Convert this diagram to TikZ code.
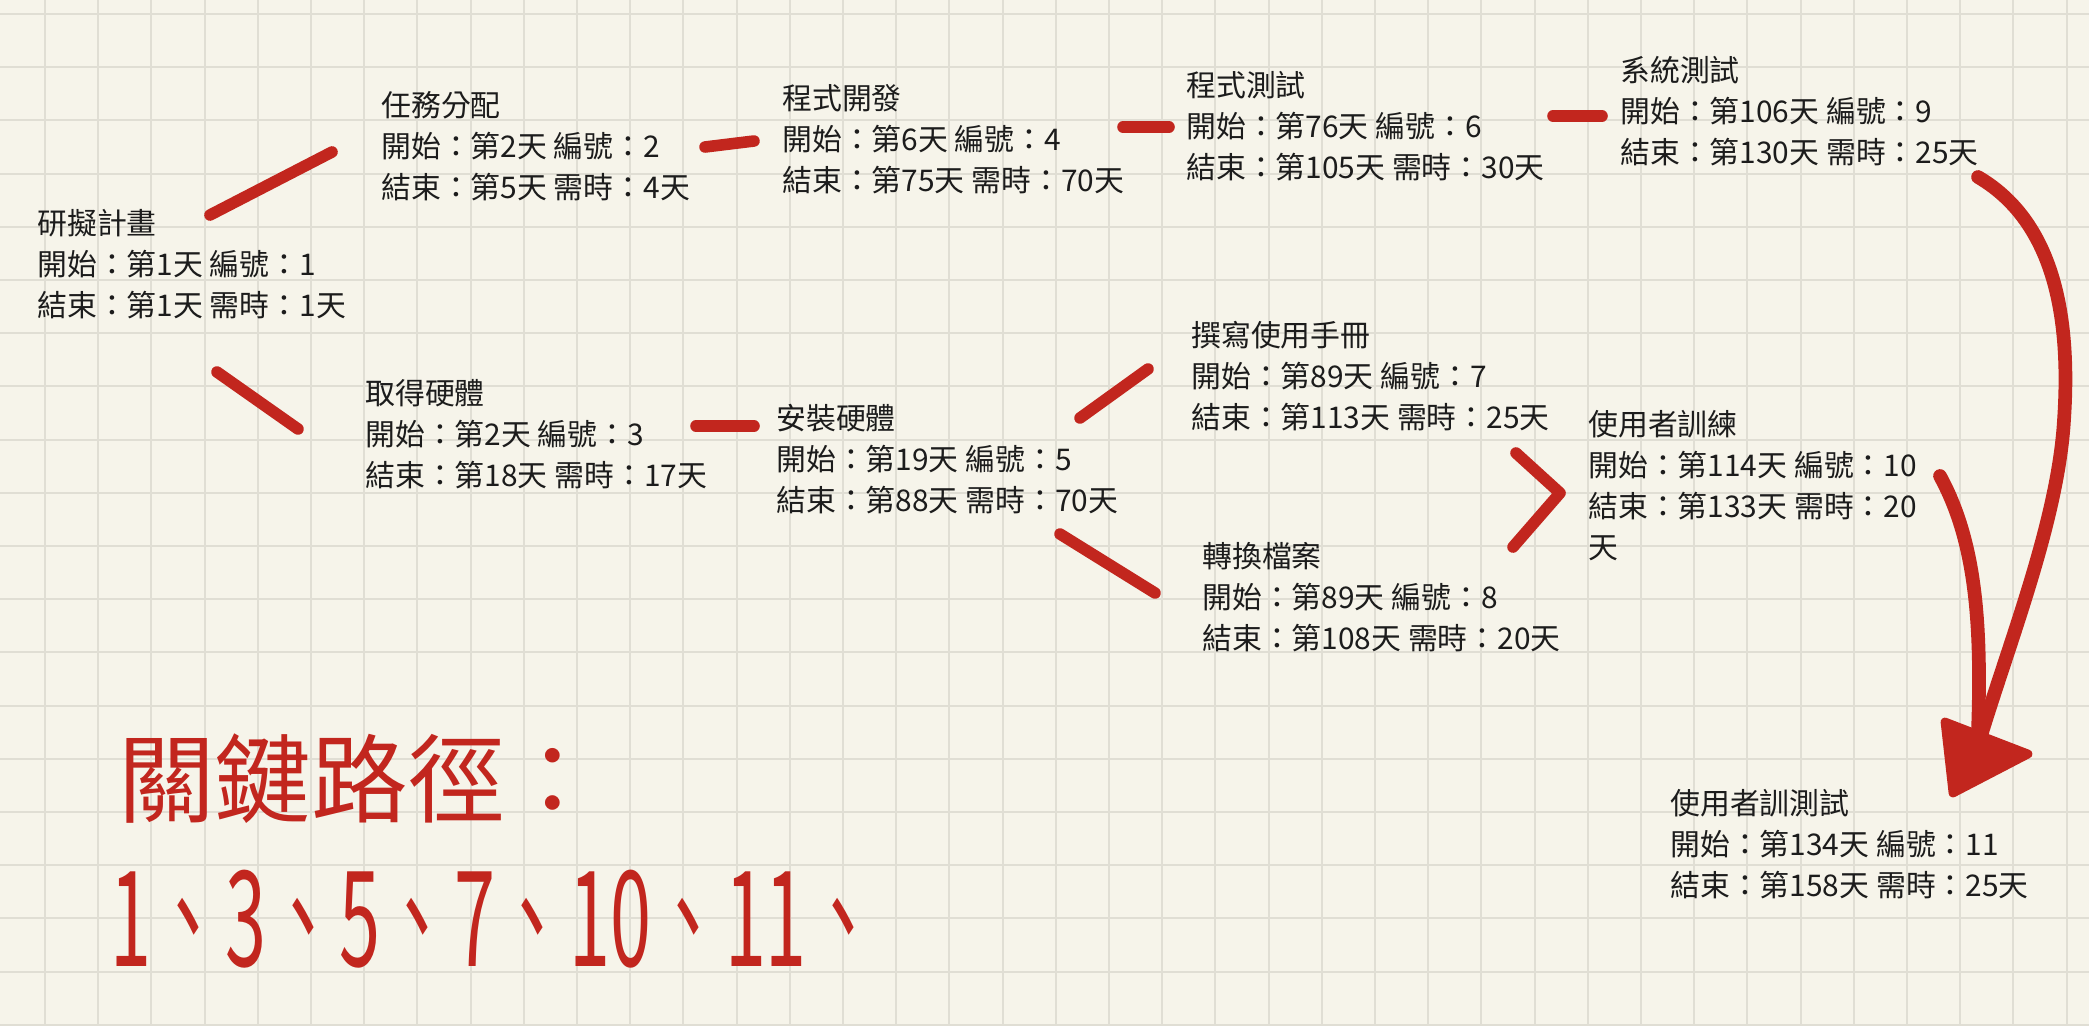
\documentclass[tikz,border=0pt]{standalone}
\usepackage{fontspec}
\newfontfamily\cjk{Noto Sans CJK TC}
\definecolor{paper}{RGB}{246,244,234}
\definecolor{gridline}{RGB}{224,222,212}
\definecolor{pen}{RGB}{194,38,30}
\definecolor{ink}{RGB}{28,28,28}

\begin{document}
\begin{tikzpicture}[x=0.02cm, y=-0.02cm,
  task/.style={anchor=north west, inner sep=0pt, align=left, text=ink,
    font=\cjk\fontsize{17}{23.3}\selectfont},
  link/.style={draw=pen, line width=6.6pt, line cap=round},
  sweep/.style={draw=pen, line width=7.8pt, line cap=round},
  hand/.style={anchor=north west, inner sep=0pt, text=pen}]

% paper and grid
\fill[paper] (0,0) rectangle (2089,1025);
\useasboundingbox (0,0) rectangle (2089,1025);
\foreach \i in {0,...,38}
  \draw[gridline, line width=1.1pt] ({45+53.2*\i},0) -- ({45+53.2*\i},1025);
\foreach \j in {0,...,19}
  \draw[gridline, line width=1.1pt] (0,{14+53.2*\j}) -- (2089,{14+53.2*\j});

% tasks
\node[task] (plan)    at (37,209)   {研擬計畫\\開始：第1天 編號：1\\結束：第1天 需時：1天};
\node[task] (assign)  at (381,91)   {任務分配\\開始：第2天 編號：2\\結束：第5天 需時：4天};
\node[task] (getHW)   at (365,379)  {取得硬體\\開始：第2天 編號：3\\結束：第18天 需時：17天};
\node[task] (coding)  at (782,84)   {程式開發\\開始：第6天 編號：4\\結束：第75天 需時：70天};
\node[task] (setupHW) at (776,404)  {安裝硬體\\開始：第19天 編號：5\\結束：第88天 需時：70天};
\node[task] (progTest) at (1186,71) {程式測試\\開始：第76天 編號：6\\結束：第105天 需時：30天};
\node[task] (manual)  at (1191,321) {撰寫使用手冊\\開始：第89天 編號：7\\結束：第113天 需時：25天};
\node[task] (convert) at (1202,542) {轉換檔案\\開始：第89天 編號：8\\結束：第108天 需時：20天};
\node[task] (sysTest) at (1620,56)  {系統測試\\開始：第106天 編號：9\\結束：第130天 需時：25天};
\node[task] (train)   at (1588,410) {使用者訓練\\開始：第114天 編號：10\\結束：第133天 需時：20\\天};
\node[task] (trainTest) at (1670,789) {使用者訓測試\\開始：第134天 編號：11\\結束：第158天 需時：25天};

% stroke ends
\coordinate (s1a) at (210,215);  \coordinate (s1b) at (332,152);
\coordinate (s2a) at (217,372);  \coordinate (s2b) at (298,429);
\coordinate (s3a) at (705,147);  \coordinate (s3b) at (754,141);
\coordinate (s4a) at (696,426);  \coordinate (s4b) at (754,426);
\coordinate (s5a) at (1123,127); \coordinate (s5b) at (1169,127);
\coordinate (s6a) at (1080,418); \coordinate (s6b) at (1148,369);
\coordinate (s7a) at (1060,534); \coordinate (s7b) at (1155,593);
\coordinate (s8a) at (1553,116); \coordinate (s8b) at (1602,116);
\coordinate (v1)  at (1516,453); \coordinate (v2)  at (1560,493); \coordinate (v3) at (1513,547);

% red strokes between tasks
\draw[link] (s1a) -- (s1b);
\draw[link] (s2a) -- (s2b);
\draw[link] (s3a) -- (s3b);
\draw[link] (s4a) -- (s4b);
\draw[link] (s5a) -- (s5b);
\draw[link] (s6a) -- (s6b);
\draw[link] (s7a) -- (s7b);
\draw[link] (s8a) -- (s8b);
\draw[link, line join=round] (v1) -- (v2) -- (v3);

% the two sweeps into the last task
\coordinate (a1) at (1978,177);
\coordinate (a2) at (1940,476);
\coordinate (tip) at (1980,739);
\draw[sweep] (a1) .. controls (2060,225) and (2070,330) .. (2064,420)
  .. controls (2058,520) and (2010,640) .. (tip);
\draw[sweep] (a2) .. controls (1975,540) and (1982,620) .. (1978,731);
\filldraw[pen, line width=5pt, line join=round] (1945,722) -- (2028,754) -- (1953,793) -- cycle;

% handwritten note
\node[hand, font=\cjk\fontsize{55}{55}\selectfont] (keyTitle) at (118,733) {關鍵路徑：};
\node[hand, font=\cjk\fontsize{42}{42}\selectfont] (keyPath) at (110,870)
  {\scalebox{1}[1.8]{1、3、5、7、10、11、}};

\end{tikzpicture}
\end{document}
